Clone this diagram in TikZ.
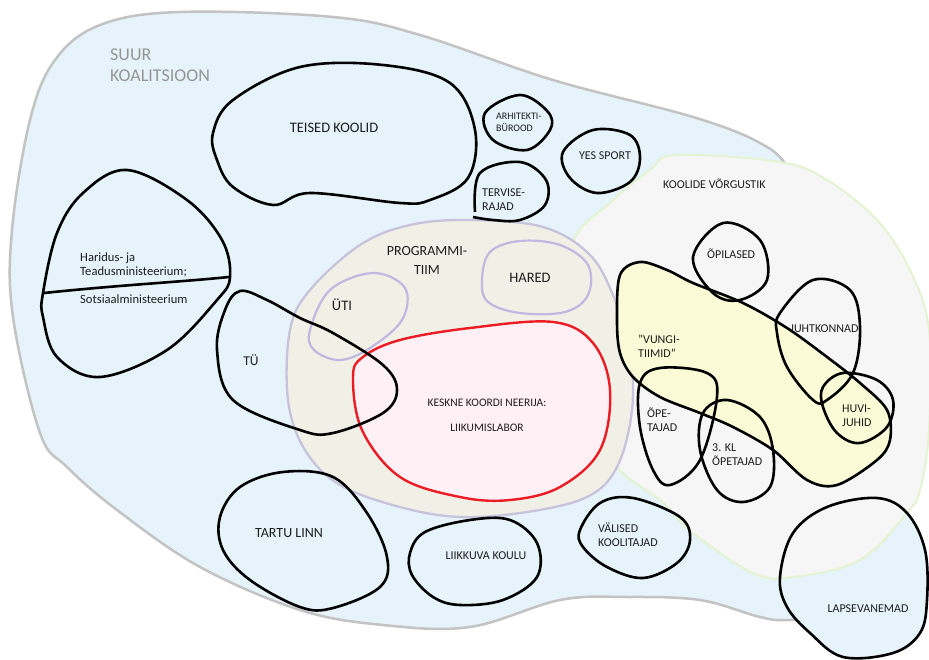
\documentclass[tikz,border=0pt]{standalone}
\usepackage{fontspec}
\setmainfont{Carlito}
\definecolor{bluefill}{RGB}{230,243,250}
\definecolor{blueline}{RGB}{195,195,195}
\definecolor{grayfill}{RGB}{246,246,246}
\definecolor{greenline}{RGB}{228,244,210}
\definecolor{beigefill}{RGB}{240,240,230}
\definecolor{beigeline}{RGB}{200,195,220}
\definecolor{lav}{RGB}{192,184,224}
\definecolor{redline}{RGB}{236,28,36}
\definecolor{pinkfill}{RGB}{255,240,245}
\definecolor{yellowfill}{RGB}{250,250,214}
\definecolor{txt}{RGB}{30,30,30}
\definecolor{graytxt}{RGB}{150,150,150}
\begin{document}
\begin{tikzpicture}[x=1pt,y=-1pt,
  blob/.style={line width=2.6pt,draw=black,line join=round},
  big/.style={text=txt,font=\fontsize{14.5}{16}\selectfont,inner sep=0pt,anchor=base},
  sm/.style={text=txt,font=\fontsize{12}{14}\selectfont,inner sep=0pt,anchor=base west},
  smc/.style={sm,anchor=base}]
\useasboundingbox (0,0) rectangle (929,660);
\fill[white] (0,0) rectangle (929,660);
% big coalition
\draw[fill=bluefill,draw=blueline,line width=2.5pt] plot[smooth cycle,tension=0.6] coordinates {
 (100,25) (180,12) (333,17) (420,35) (553,80) (693,117) (760,143) (790,170)
 (830,240) (865,350) (890,470) (905,540) (900,590) (860,615) (790,620) (760,617) (700,600) (627,597) (560,600) (470,627) (383,625)
 (300,610) (200,567) (117,510) (67,467) (40,433) (13,317) (12,230) (30,120) (55,60)};
% parents area fill (hides coalition border inside it)
\fill[bluefill] plot[smooth cycle,tension=0.6] coordinates {
 (780,577) (793,533) (827,507) (877,498) (907,513) (925,550) (927,600) (920,633) (893,653) (843,657) (810,633) (787,607)};
% network region
\draw[fill=grayfill,draw=greenline,line width=2pt] plot[smooth cycle,tension=0.6] coordinates {
 (677,155) (780,162) (827,180) (877,220) (910,270) (929,330) (929,430) (920,490) (907,513) (860,560) (793,577) (753,573)
 (693,533) (660,500) (620,470) (590,420) (565,330) (573,243) (610,203) (650,170)};
% programme team
\draw[fill=beigefill,draw=beigeline,line width=2.3pt] plot[smooth cycle,tension=0.6] coordinates {
 (470,220) (543,227) (590,255) (615,300) (630,350) (632,410) (617,467) (587,497) (527,512) (460,517) (400,507)
 (340,485) (305,450) (288,400) (290,330) (310,290) (360,245) (410,225)};
% black blobs in coalition
\draw[blob] plot[smooth cycle,tension=0.6] coordinates {
 (213,133) (233,100) (300,67) (383,65) (450,83) (475,130) (468,178) (430,200) (400,203) (310,193) (273,205) (233,187) (217,160)};
\node[big] (teised) at (334,133) {TEISED KOOLID};
\draw[blob] plot[smooth cycle,tension=0.6] coordinates {
 (127,170) (187,200) (222,240) (230,277) (217,300) (167,350) (100,377) (57,357) (43,317) (43,293) (57,233) (83,193)};
\draw[blob] (44,293) .. controls (120,285) and (180,282) .. (229,277);
\node[sm,font=\fontsize{12.6}{14}\selectfont] (min1) at (80,262) {Haridus- ja};
\node[sm,font=\fontsize{12.6}{14}\selectfont] (min2) at (80,276) {Teadusministeerium;};
\node[sm,font=\fontsize{12.6}{14}\selectfont] (sots) at (80,304) {Sotsiaalministeerium};
\draw[blob] plot[smooth cycle,tension=0.6] coordinates {
 (485,113) (520,95) (548,112) (550,130) (527,150) (493,140)};
\node[sm,font=\fontsize{10}{11}\selectfont] (arh1) at (496,120) {ARHITEKTI-};
\node[sm,font=\fontsize{10}{11}\selectfont] (arh2) at (496,132) {BÜROOD};
\draw[blob] plot[smooth cycle,tension=0.6] coordinates {
 (563,152) (593,130) (630,135) (640,158) (630,182) (597,193) (570,178)};
\node[smc] (yes) at (605,160) {YES SPORT};
\draw[blob] plot[smooth,tension=0.6] coordinates {
 (475,212) (480,173) (520,162) (546,180) (545,205) (520,220) (493,220) (473,217)};
\node[sm] (terv1) at (482,197) {TERVISE-};
\node[sm] (terv2) at (482,211) {RAJAD};
\draw[blob] plot[smooth cycle,tension=0.6] coordinates {
 (220,517) (240,487) (283,472) (333,477) (367,513) (387,557) (380,587) (333,608) (300,607) (250,580) (223,550)};
\node[big,font=\fontsize{14}{16}\selectfont] (tartu) at (289,537) {TARTU LINN};
\draw[blob] plot[smooth cycle,tension=0.6] coordinates {
 (410,553) (425,532) (470,520) (510,520) (537,543) (537,577) (503,600) (460,605) (433,597) (412,575)};
\node[smc] (liik) at (486,559) {LIIKKUVA KOULU};
\draw[blob] plot[smooth cycle,tension=0.6] coordinates {
 (580,530) (600,503) (633,498) (680,517) (690,540) (677,563) (643,578) (607,567) (583,547)};
\node[sm] (val1) at (598,532) {VÄLISED};
\node[sm] (val2) at (598,546) {KOOLITAJAD};
% programme team content
\draw[lav,line width=2.2pt] plot[smooth cycle,tension=0.6] coordinates {
 (310,330) (330,290) (373,273) (405,288) (402,320) (370,348) (340,360) (314,350)};
\node[big] (uti) at (342,311) {ÜTI};
\draw[lav,line width=2.2pt] plot[smooth cycle,tension=0.6] coordinates {
 (482,280) (490,252) (520,241) (560,245) (588,265) (588,295) (565,312) (520,313) (488,302)};
\node[big] (hared) at (530,283) {HARED};
\node[big,font=\fontsize{14}{16}\selectfont] (prog1) at (427,256) {PROGRAMMI-};
\node[big,font=\fontsize{14}{16}\selectfont] (prog2) at (427,275) {TIIM};
\draw[fill=pinkfill,draw=redline,line width=2.4pt] plot[smooth cycle,tension=0.6] coordinates {
 (353,377) (363,357) (400,340) (470,328) (553,322) (593,343) (610,390) (600,450) (560,487) (510,500) (460,497)
 (400,477) (362,430)};
\node[smc,font=\fontsize{11.5}{13}\selectfont] (kes) at (487,406) {KESKNE KOORDI NEERIJA:};
\node[smc,font=\fontsize{11.5}{13}\selectfont] (lab) at (487,431) {LIIKUMISLABOR};
\draw[blob] plot[smooth cycle,tension=0.6] coordinates {
 (240,291) (267,300) (300,318) (333,333) (383,365) (397,390) (383,413) (333,433) (300,430) (233,400) (217,350) (225,310)};
\node[big,font=\fontsize{13.5}{16}\selectfont] (tu) at (251,365) {TÜ};
% network content
\node[sm] (kv) at (663,189) {KOOLIDE VÕRGUSTIK};
\draw[blob,fill=yellowfill] plot[smooth cycle,tension=0.55] coordinates {
 (620,275) (640,262) (667,270) (693,283) (743,303) (787,328) (827,357) (860,383) (887,410) (890,440) (877,460)
 (837,485) (807,480) (773,450) (733,427) (700,413) (660,397) (633,377) (620,353) (617,320)};
\node[sm] (vun1) at (638,343) {"VUNGI-};
\node[sm] (vun2) at (638,357) {TIIMID"};
\draw[blob] plot[smooth cycle,tension=0.6] coordinates {
 (693,257) (723,223) (760,240) (767,280) (740,300) (713,293)};
\node[sm] (opi) at (707,259) {ÕPILASED};
\draw[blob] plot[smooth cycle,tension=0.6] coordinates {
 (780,313) (813,280) (850,290) (860,327) (853,373) (827,400) (813,400) (787,367) (777,333)};
\node[sm] (juht) at (790,332) {JUHTKONNAD};
\draw[blob] plot[smooth cycle,tension=0.6] coordinates {
 (823,387) (843,373) (877,380) (893,400) (887,427) (860,443) (837,433) (823,407)};
\node[sm] (huvi1) at (842,412) {HUVI-};
\node[sm] (huvi2) at (842,426) {JUHID};
\draw[blob] plot[smooth cycle,tension=0.6] coordinates {
 (640,383) (660,368) (707,373) (717,397) (700,460) (670,485) (653,470) (640,427)};
\node[sm] (ope1) at (647,417) {ÕPE-};
\node[sm] (ope2) at (647,431) {TAJAD};
\draw[blob] plot[smooth cycle,tension=0.6] coordinates {
 (703,413) (727,400) (760,417) (773,450) (770,487) (743,502) (717,490) (700,450)};
\node[sm] (kl1) at (712,451) {3. KL};
\node[sm] (kl2) at (712,465) {ÕPETAJAD};
\draw[blob] plot[smooth cycle,tension=0.6] coordinates {
 (780,577) (793,533) (827,507) (877,498) (907,513) (925,550) (927,600) (920,633) (893,653) (843,657) (810,633) (787,607)};
\node[smc] (lap) at (868,612) {LAPSEVANEMAD};
% coalition title
\node[text=graytxt,font=\fontsize{18}{21}\selectfont,inner sep=0pt,anchor=base west] (suur1) at (110,61) {SUUR};
\node[text=graytxt,font=\fontsize{18}{21}\selectfont,inner sep=0pt,anchor=base west] (suur2) at (110,82) {KOALITSIOON};
\end{tikzpicture}
\end{document}
